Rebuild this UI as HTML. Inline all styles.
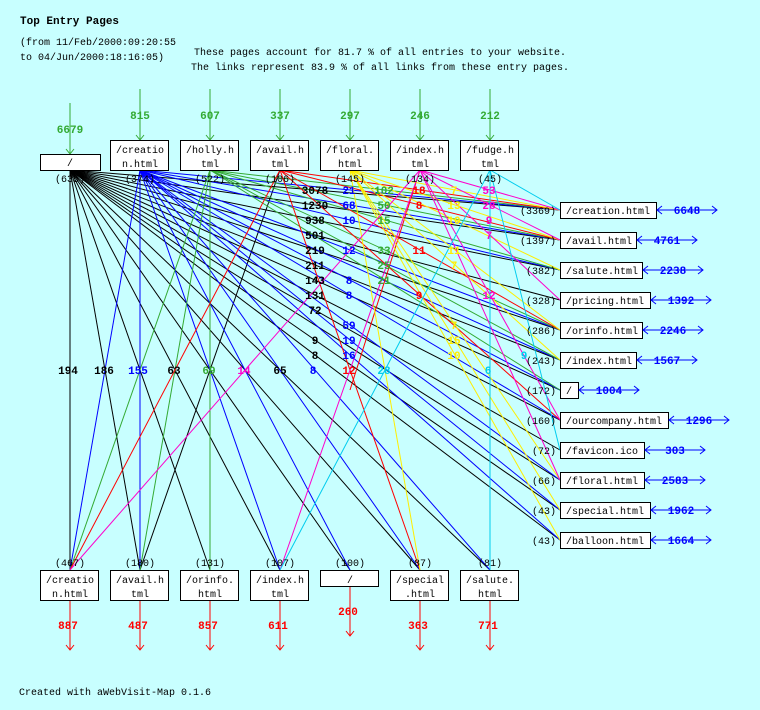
<!DOCTYPE html>
<html><head><meta charset="utf-8"><style>
html,body{margin:0;padding:0;background:#c8ffff;}
svg{display:block;font-family:"Liberation Mono",monospace;}
.t{font-size:10px;fill:#000}
.b{font-size:11px;font-weight:bold}
</style></head><body>
<svg width="760" height="710" viewBox="0 0 760 710" xmlns="http://www.w3.org/2000/svg">
<rect width="760" height="710" fill="#c8ffff"/>
<text x="20" y="24" style="font-size:11px;font-weight:bold">Top Entry Pages</text>
<text class="t" x="20" y="45">(from 11/Feb/2000:09:20:55</text>
<text class="t" x="20" y="60">to 04/Jun/2000:18:16:05)</text>
<text class="t" x="380" y="55" text-anchor="middle">These pages account for 81.7 % of all entries to your website.</text>
<text class="t" x="380" y="70" text-anchor="middle">The links represent 83.9 % of all links from these entry pages.</text>

<g stroke-width="1" fill="none">
<g stroke="#000">
<line x1="70" y1="170" x2="560" y2="210"/><line x1="70" y1="170" x2="560" y2="240"/><line x1="70" y1="170" x2="560" y2="270"/>
<line x1="70" y1="170" x2="560" y2="300"/><line x1="70" y1="170" x2="560" y2="330"/><line x1="70" y1="170" x2="560" y2="360"/>
<line x1="70" y1="170" x2="560" y2="390"/><line x1="70" y1="170" x2="560" y2="420"/><line x1="70" y1="170" x2="560" y2="450"/>
<line x1="70" y1="170" x2="560" y2="480"/><line x1="70" y1="170" x2="560" y2="510"/><line x1="70" y1="170" x2="560" y2="540"/>
<line x1="70" y1="170" x2="70" y2="570"/><line x1="70" y1="170" x2="140" y2="570"/><line x1="70" y1="170" x2="210" y2="570"/>
<line x1="70" y1="170" x2="280" y2="570"/><line x1="70" y1="170" x2="350" y2="570"/><line x1="70" y1="170" x2="420" y2="570"/><line x1="70" y1="170" x2="490" y2="570"/>
<line x1="280" y1="170" x2="140" y2="570"/>
</g>
<g stroke="#0000ff">
<line x1="140" y1="170" x2="560" y2="210"/><line x1="140" y1="170" x2="560" y2="240"/><line x1="140" y1="170" x2="560" y2="270"/>
<line x1="140" y1="170" x2="560" y2="330"/><line x1="140" y1="170" x2="560" y2="360"/><line x1="140" y1="170" x2="560" y2="390"/>
<line x1="140" y1="170" x2="560" y2="420"/><line x1="140" y1="170" x2="560" y2="480"/><line x1="140" y1="170" x2="560" y2="510"/><line x1="140" y1="170" x2="560" y2="540"/>
<line x1="140" y1="170" x2="70" y2="570"/><line x1="140" y1="170" x2="140" y2="570"/><line x1="140" y1="170" x2="280" y2="570"/>
<line x1="140" y1="170" x2="350" y2="570"/><line x1="140" y1="170" x2="420" y2="570"/><line x1="140" y1="170" x2="490" y2="570"/>
</g>
<g stroke="#33aa33">
<line x1="210" y1="170" x2="560" y2="210"/><line x1="210" y1="170" x2="560" y2="240"/><line x1="210" y1="170" x2="560" y2="270"/>
<line x1="210" y1="170" x2="560" y2="330"/><line x1="210" y1="170" x2="560" y2="360"/><line x1="210" y1="170" x2="560" y2="390"/>
<line x1="210" y1="170" x2="70" y2="570"/><line x1="210" y1="170" x2="140" y2="570"/><line x1="210" y1="170" x2="210" y2="570"/>
</g>
<g stroke="#ff0000">
<line x1="280" y1="170" x2="560" y2="210"/><line x1="280" y1="170" x2="560" y2="240"/><line x1="280" y1="170" x2="560" y2="330"/>
<line x1="280" y1="170" x2="560" y2="420"/><line x1="280" y1="170" x2="70" y2="570"/><line x1="280" y1="170" x2="420" y2="570"/>
<line x1="420" y1="170" x2="350" y2="390"/>
</g>
<g stroke="#ffee00">
<line x1="350" y1="170" x2="560" y2="210"/><line x1="350" y1="170" x2="560" y2="240"/><line x1="350" y1="170" x2="560" y2="270"/>
<line x1="350" y1="170" x2="560" y2="330"/><line x1="350" y1="170" x2="560" y2="360"/><line x1="350" y1="170" x2="560" y2="480"/>
<line x1="350" y1="170" x2="560" y2="510"/><line x1="350" y1="170" x2="560" y2="540"/><line x1="350" y1="170" x2="420" y2="570"/>
</g>
<g stroke="#ff00cc">
<line x1="420" y1="170" x2="560" y2="210"/><line x1="420" y1="170" x2="560" y2="240"/><line x1="420" y1="170" x2="560" y2="300"/>
<line x1="420" y1="170" x2="560" y2="420"/><line x1="420" y1="170" x2="560" y2="480"/><line x1="420" y1="170" x2="70" y2="570"/>
<line x1="420" y1="170" x2="280" y2="570"/>
</g>
<g stroke="#00ccee">
<line x1="490" y1="170" x2="560" y2="210"/><line x1="490" y1="170" x2="560" y2="450"/><line x1="490" y1="170" x2="280" y2="570"/><line x1="490" y1="170" x2="490" y2="570"/>
</g>
</g>

<g stroke="#33aa33" fill="none">
<line x1="70" y1="103" x2="70" y2="154"/><path d="M66 149 L70 154 L74 149"/>
<line x1="140" y1="89" x2="140" y2="140"/><path d="M136 135 L140 140 L144 135"/>
<line x1="210" y1="89" x2="210" y2="140"/><path d="M206 135 L210 140 L214 135"/>
<line x1="280" y1="89" x2="280" y2="140"/><path d="M276 135 L280 140 L284 135"/>
<line x1="350" y1="89" x2="350" y2="140"/><path d="M346 135 L350 140 L354 135"/>
<line x1="420" y1="89" x2="420" y2="140"/><path d="M416 135 L420 140 L424 135"/>
<line x1="490" y1="89" x2="490" y2="140"/><path d="M486 135 L490 140 L494 135"/>
</g>
<g class="b" fill="#33aa33" text-anchor="middle">
<text x="70" y="133">6679</text><text x="140" y="119">815</text><text x="210" y="119">607</text><text x="280" y="119">337</text>
<text x="350" y="119">297</text><text x="420" y="119">246</text><text x="490" y="119">212</text>
</g>

<g fill="#fff" stroke="#000">
<rect x="40.5" y="154.5" width="60" height="16"/>
<rect x="110.5" y="140.5" width="58" height="30"/><rect x="180.5" y="140.5" width="58" height="30"/>
<rect x="250.5" y="140.5" width="58" height="30"/><rect x="320.5" y="140.5" width="58" height="30"/>
<rect x="390.5" y="140.5" width="58" height="30"/><rect x="460.5" y="140.5" width="58" height="30"/>
</g>
<g class="t" text-anchor="middle">
<text x="70" y="166">/</text>
<text x="140" y="153">/creatio</text><text x="140" y="167">n.html</text>
<text x="210" y="153">/holly.h</text><text x="210" y="167">tml</text>
<text x="280" y="153">/avail.h</text><text x="280" y="167">tml</text>
<text x="350" y="153">/floral.</text><text x="350" y="167">html</text>
<text x="420" y="153">/index.h</text><text x="420" y="167">tml</text>
<text x="490" y="153">/fudge.h</text><text x="490" y="167">tml</text>
<text x="70" y="182">(635)</text><text x="140" y="182">(374)</text><text x="210" y="182">(522)</text><text x="280" y="182">(106)</text>
<text x="350" y="182">(145)</text><text x="420" y="182">(134)</text><text x="490" y="182">(45)</text>
</g>

<g class="b" text-anchor="middle">
<g fill="#000">
<text x="315" y="194">3078</text><text x="315" y="209">1230</text><text x="315" y="224">938</text><text x="315" y="239">501</text>
<text x="315" y="254">219</text><text x="315" y="269">211</text><text x="315" y="284">143</text><text x="315" y="299">131</text>
<text x="315" y="314">72</text><text x="315" y="344">9</text><text x="315" y="359">8</text><text x="68" y="374">194</text>
<text x="174" y="374">63</text><text x="280" y="374">65</text><text x="104" y="374">186</text>
</g>
<g fill="#0000ff">
<text x="349" y="194">21</text><text x="349" y="209">68</text><text x="349" y="224">10</text><text x="349" y="254">12</text>
<text x="349" y="284">8</text><text x="349" y="299">8</text><text x="349" y="329">59</text><text x="349" y="344">19</text>
<text x="349" y="359">16</text><text x="313" y="374">8</text><text x="138" y="374">155</text>
</g>
<g fill="#33aa33">
<text x="384" y="194">102</text><text x="384" y="209">50</text><text x="384" y="224">15</text><text x="384" y="254">33</text>
<text x="384" y="269">25</text><text x="384" y="284">21</text><text x="209" y="374">69</text>
</g>
<g fill="#ff0000">
<text x="419" y="194">18</text><text x="419" y="209">8</text><text x="419" y="254">11</text><text x="419" y="299">9</text><text x="349" y="374">12</text>
</g>
<g fill="#ffee00">
<text x="454" y="194">7</text><text x="454" y="209">13</text><text x="454" y="224">10</text><text x="454" y="254">11</text>
<text x="454" y="269">7</text><text x="454" y="329">7</text><text x="454" y="344">15</text><text x="454" y="359">10</text>
</g>
<g fill="#ff00cc">
<text x="489" y="194">53</text><text x="489" y="209">28</text><text x="489" y="224">9</text><text x="489" y="239">7</text>
<text x="489" y="299">12</text><text x="244" y="374">14</text>
</g>
<g fill="#00ccee">
<text x="384" y="374">28</text><text x="488" y="374">6</text><text x="524" y="359">9</text>
</g>
</g>

<g fill="#fff" stroke="#000">
<rect x="560.5" y="202.5" width="96" height="16"/><rect x="560.5" y="232.5" width="76" height="16"/>
<rect x="560.5" y="262.5" width="82" height="16"/><rect x="560.5" y="292.5" width="90" height="16"/>
<rect x="560.5" y="322.5" width="82" height="16"/><rect x="560.5" y="352.5" width="76" height="16"/>
<rect x="560.5" y="382.5" width="18" height="16"/><rect x="560.5" y="412.5" width="108" height="16"/>
<rect x="560.5" y="442.5" width="84" height="16"/><rect x="560.5" y="472.5" width="84" height="16"/>
<rect x="560.5" y="502.5" width="90" height="16"/><rect x="560.5" y="532.5" width="90" height="16"/>
</g>
<g class="t">
<text x="566" y="214">/creation.html</text><text x="566" y="244">/avail.html</text><text x="566" y="274">/salute.html</text>
<text x="566" y="304">/pricing.html</text><text x="566" y="334">/orinfo.html</text><text x="566" y="364">/index.html</text>
<text x="566" y="394">/</text><text x="566" y="424">/ourcompany.html</text><text x="566" y="454">/favicon.ico</text>
<text x="566" y="484">/floral.html</text><text x="566" y="514">/special.html</text><text x="566" y="544">/balloon.html</text>
</g>
<g class="t" text-anchor="end">
<text x="556" y="214">(3369)</text><text x="556" y="244">(1397)</text><text x="556" y="274">(382)</text><text x="556" y="304">(328)</text>
<text x="556" y="334">(286)</text><text x="556" y="364">(243)</text><text x="556" y="394">(172)</text><text x="556" y="424">(160)</text>
<text x="556" y="454">(72)</text><text x="556" y="484">(66)</text><text x="556" y="514">(43)</text><text x="556" y="544">(43)</text>
</g>
<g stroke="#0000ff" fill="none">
<path d="M657 210 H717 M662 206 L657 210 L662 214 M712 206 L717 210 L712 214"/>
<path d="M637 240 H697 M642 236 L637 240 L642 244 M692 236 L697 240 L692 244"/>
<path d="M643 270 H703 M648 266 L643 270 L648 274 M698 266 L703 270 L698 274"/>
<path d="M651 300 H711 M656 296 L651 300 L656 304 M706 296 L711 300 L706 304"/>
<path d="M643 330 H703 M648 326 L643 330 L648 334 M698 326 L703 330 L698 334"/>
<path d="M637 360 H697 M642 356 L637 360 L642 364 M692 356 L697 360 L692 364"/>
<path d="M579 390 H639 M584 386 L579 390 L584 394 M634 386 L639 390 L634 394"/>
<path d="M669 420 H729 M674 416 L669 420 L674 424 M724 416 L729 420 L724 424"/>
<path d="M645 450 H705 M650 446 L645 450 L650 454 M700 446 L705 450 L700 454"/>
<path d="M645 480 H705 M650 476 L645 480 L650 484 M700 476 L705 480 L700 484"/>
<path d="M651 510 H711 M656 506 L651 510 L656 514 M706 506 L711 510 L706 514"/>
<path d="M651 540 H711 M656 536 L651 540 L656 544 M706 536 L711 540 L706 544"/>
</g>
<g class="b" fill="#0000ff" text-anchor="middle">
<text x="687" y="214">6648</text><text x="667" y="244">4761</text><text x="673" y="274">2238</text><text x="681" y="304">1392</text>
<text x="673" y="334">2246</text><text x="667" y="364">1567</text><text x="609" y="394">1004</text><text x="699" y="424">1296</text>
<text x="675" y="454">303</text><text x="675" y="484">2583</text><text x="681" y="514">1962</text><text x="681" y="544">1664</text>
</g>

<g fill="#fff" stroke="#000">
<rect x="40.5" y="570.5" width="58" height="30"/><rect x="110.5" y="570.5" width="58" height="30"/>
<rect x="180.5" y="570.5" width="58" height="30"/><rect x="250.5" y="570.5" width="58" height="30"/>
<rect x="320.5" y="570.5" width="58" height="16"/><rect x="390.5" y="570.5" width="58" height="30"/>
<rect x="460.5" y="570.5" width="58" height="30"/>
</g>
<g class="t" text-anchor="middle">
<text x="70" y="566">(467)</text><text x="140" y="566">(180)</text><text x="210" y="566">(131)</text><text x="280" y="566">(107)</text>
<text x="350" y="566">(100)</text><text x="420" y="566">(87)</text><text x="490" y="566">(81)</text>
<text x="70" y="583">/creatio</text><text x="70" y="597">n.html</text>
<text x="140" y="583">/avail.h</text><text x="140" y="597">tml</text>
<text x="210" y="583">/orinfo.</text><text x="210" y="597">html</text>
<text x="280" y="583">/index.h</text><text x="280" y="597">tml</text>
<text x="350" y="583">/</text>
<text x="420" y="583">/special</text><text x="420" y="597">.html</text>
<text x="490" y="583">/salute.</text><text x="490" y="597">html</text>
</g>
<g stroke="#ff0000" fill="none">
<path d="M70 601 V650 M66 645 L70 650 L74 645"/>
<path d="M140 601 V650 M136 645 L140 650 L144 645"/>
<path d="M210 601 V650 M206 645 L210 650 L214 645"/>
<path d="M280 601 V650 M276 645 L280 650 L284 645"/>
<path d="M350 587 V636 M346 631 L350 636 L354 631"/>
<path d="M420 601 V650 M416 645 L420 650 L424 645"/>
<path d="M490 601 V650 M486 645 L490 650 L494 645"/>
</g>
<g class="b" fill="#ff0000" text-anchor="middle">
<text x="68" y="629">887</text><text x="138" y="629">487</text><text x="208" y="629">857</text><text x="278" y="629">611</text>
<text x="348" y="615">260</text><text x="418" y="629">363</text><text x="488" y="629">771</text>
</g>
<text class="t" x="19" y="695">Created with aWebVisit-Map 0.1.6</text>
</svg>
</body></html>
